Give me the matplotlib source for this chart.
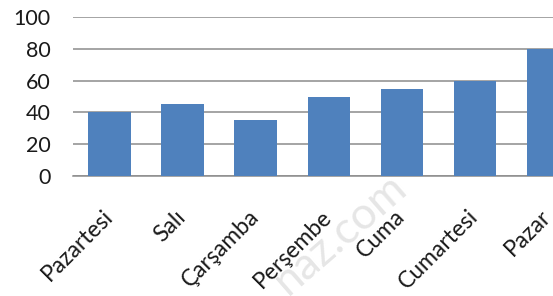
import matplotlib
matplotlib.use("Agg")
import matplotlib.pyplot as plt

days = ["Pazartesi", "Salı", "Çarşamba", "Perşembe", "Cuma", "Cumartesi", "Pazar"]
values = [40, 45, 35, 50, 55, 60, 80]
yticks = [0, 20, 40, 60, 80, 100]

plt.rcParams['font.family'] = ['Lato', 'DejaVu Sans']

fig = plt.figure(figsize=(5.53, 2.96), dpi=100)
ax = fig.add_axes([73/553, 120/296, 1 - 73/553, 159/296])

x = list(range(len(days)))
ax.bar(x, values, width=0.58, color="#4F81BD", zorder=3)
ax.set_xlim(-0.5, 6.07)
ax.set_ylim(0, 100)
ax.set_yticks(yticks)
ax.set_yticklabels([str(v) for v in yticks], fontsize=15.5, color="#1a1a1a")
ax.yaxis.grid(True, color="#8C8C8C", linewidth=1.1, zorder=0)
ax.set_axisbelow(True)
for s in ["left", "right", "top"]:
    ax.spines[s].set_visible(False)
ax.spines["bottom"].set_color("#8C8C8C")
ax.spines["bottom"].set_linewidth(1.1)
ax.tick_params(axis="y", length=0, pad=16)
ax.tick_params(axis="x", length=0, pad=27)
ax.set_xticks(x)
ax.set_xticklabels(days, rotation=45, ha="right", va="center",
                   rotation_mode="anchor", fontsize=16.5, color="#1a1a1a")

fig.text(0.615, 0.21, "naz.com", fontsize=32, color="#E6E6E6",
         rotation=41, ha="center", va="center", zorder=0)

fig.savefig("out.png", dpi=100)
